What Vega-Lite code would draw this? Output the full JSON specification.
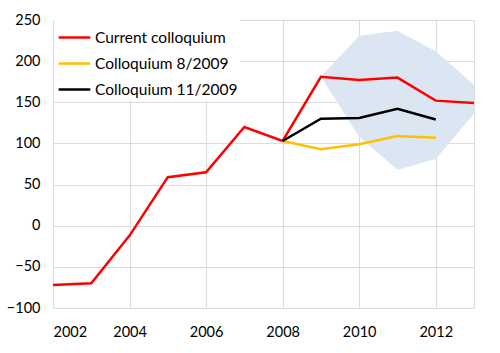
{
  "$schema": "https://vega.github.io/schema/vega-lite/v6.json",
  "width": 421,
  "height": 288,
  "autosize": {"type": "none"},
  "padding": {"left": 53, "top": 20, "right": 26, "bottom": 45},
  "background": "white",
  "config": {
    "view": {"stroke": null},
    "font": "Lato",
    "axis": {"labelFont": "Lato", "labelFontSize": 14.5, "labelColor": "#000000", "domain": false, "tickSize": 0, "title": null}
  },
  "datasets": {
    "lines": [
      {"year": 2002, "series": "Current colloquium", "value": -72},
      {"year": 2003, "series": "Current colloquium", "value": -70},
      {"year": 2004, "series": "Current colloquium", "value": -12},
      {"year": 2005, "series": "Current colloquium", "value": 59},
      {"year": 2006, "series": "Current colloquium", "value": 65},
      {"year": 2007, "series": "Current colloquium", "value": 120},
      {"year": 2008, "series": "Current colloquium", "value": 103},
      {"year": 2009, "series": "Current colloquium", "value": 181},
      {"year": 2010, "series": "Current colloquium", "value": 177},
      {"year": 2011, "series": "Current colloquium", "value": 180},
      {"year": 2012, "series": "Current colloquium", "value": 152},
      {"year": 2013, "series": "Current colloquium", "value": 149},
      {"year": 2008, "series": "Colloquium 8/2009", "value": 103},
      {"year": 2009, "series": "Colloquium 8/2009", "value": 93},
      {"year": 2010, "series": "Colloquium 8/2009", "value": 99},
      {"year": 2011, "series": "Colloquium 8/2009", "value": 109},
      {"year": 2012, "series": "Colloquium 8/2009", "value": 107},
      {"year": 2008, "series": "Colloquium 11/2009", "value": 103},
      {"year": 2009, "series": "Colloquium 11/2009", "value": 130},
      {"year": 2010, "series": "Colloquium 11/2009", "value": 131},
      {"year": 2011, "series": "Colloquium 11/2009", "value": 142},
      {"year": 2012, "series": "Colloquium 11/2009", "value": 129}
    ],
    "band": [
      {"year": 2009, "lo": 181, "hi": 181},
      {"year": 2010, "lo": 108, "hi": 231},
      {"year": 2011, "lo": 68, "hi": 237},
      {"year": 2012, "lo": 81, "hi": 212},
      {"year": 2013, "lo": 136, "hi": 171}
    ]
  },
  "encoding": {
    "x": {"field": "year", "type": "quantitative", "scale": {"domain": [2002, 2013], "nice": false, "zero": false},
      "axis": {"grid": true, "gridColor": "#dcdcdc", "gridWidth": 1, "values": [2002, 2004, 2006, 2008, 2010, 2012, 2013], "format": "d", "labelExpr": "datum.value == 2013 ? '' : datum.label", "labelPadding": 17}},
    "y": {"field": "value", "type": "quantitative", "scale": {"domain": [-100, 250], "nice": false},
      "axis": {"grid": true, "gridColor": "#dcdcdc", "gridWidth": 1, "values": [-100, -50, 0, 50, 100, 150, 200, 250], "labelPadding": 13}}
  },
  "layer": [
    {
      "data": {"name": "band"},
      "mark": {"type": "area", "color": "#dce6f2", "opacity": 1},
      "encoding": {
        "y": {"field": "hi", "type": "quantitative"},
        "y2": {"field": "lo"}
      }
    },
    {
      "data": {"name": "lines"},
      "mark": {"type": "line", "strokeWidth": 2.5},
      "encoding": {
        "color": {
          "field": "series", "type": "nominal",
          "scale": {"domain": ["Current colloquium", "Colloquium 8/2009", "Colloquium 11/2009"], "range": ["#ff0000", "#ffc000", "#000000"]},
          "legend": {"title": null, "orient": "none", "legendX": 2, "legendY": -2, "symbolType": "stroke", "symbolSize": 1000, "symbolStrokeWidth": 2.5, "labelFontSize": 15.5, "labelFont": "Lato", "labelColor": "#000000", "rowPadding": -9, "labelOffset": 3, "padding": 2, "fillColor": "white"}
        }
      }
    }
  ]
}
